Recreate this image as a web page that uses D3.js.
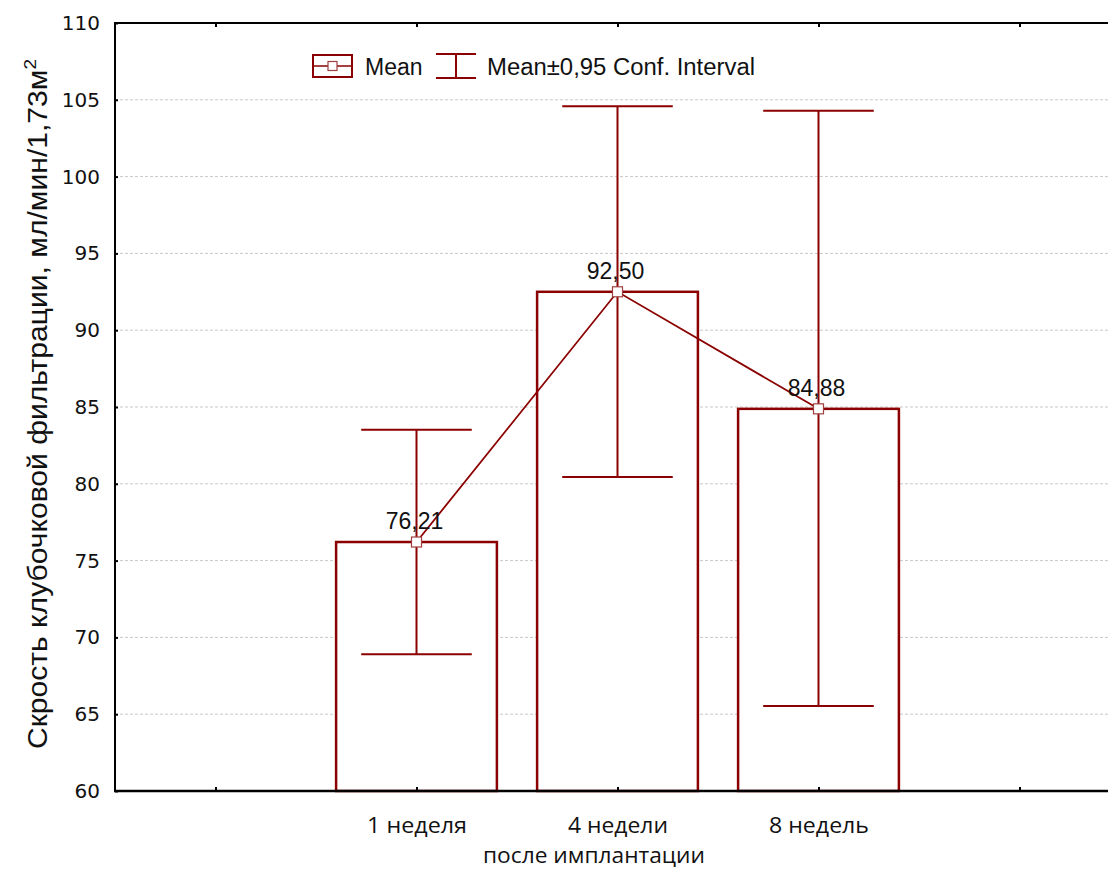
<!DOCTYPE html>
<html>
<head>
<meta charset="utf-8">
<script src="https://cdn.jsdelivr.net/npm/d3@7/dist/d3.min.js"></script>
<style>
  html, body { margin: 0; padding: 0; background: #fff; }
  svg { display: block; }
</style>
</head>
<body>
<svg id="chart" width="1108" height="870"></svg>
<script>
// Glomerular filtration rate after implantation: mean with 95% CI
const categories = ["1 неделя", "4 недели", "8 недель"];
const means = [76.21, 92.50, 84.88];
const ciLow = [68.9, 80.44, 65.53];
const ciHigh = [83.52, 104.58, 104.28];
const yTicks = [60, 65, 70, 75, 80, 85, 90, 95, 100, 105, 110];
const xTickSlots = [-1, 0, 1, 2, 3];

const svg = d3.select("#chart");
const red = "#8b0000";
const plot = { left: 115, right: 1120, top: 23, bottom: 791 };

// slots: one empty slot on each side of the three categories
const x = d3.scaleLinear().domain([-1.5, 3.5]).range([plot.left, plot.right]);
const y = d3.scaleLinear().domain([60, 110]).range([plot.bottom, plot.top]);
const barW = x(0.4) - x(0);
const capW = x(0.275) - x(0);

// horizontal dashed grid
svg.append("g").selectAll("line")
  .data(yTicks.filter(t => t > 60 && t < 110))
  .join("line")
  .attr("x1", plot.left).attr("x2", plot.right)
  .attr("y1", d => y(d)).attr("y2", d => y(d))
  .attr("stroke", "#c8c8c8").attr("stroke-width", 1)
  .attr("stroke-dasharray", "3,2");

// bars
svg.append("g").selectAll("rect")
  .data(means)
  .join("rect")
  .attr("x", (d, i) => x(i) - barW)
  .attr("width", barW * 2)
  .attr("y", d => y(d))
  .attr("height", d => y(60) - y(d))
  .attr("fill", "#fff")
  .attr("stroke", red).attr("stroke-width", 2.5);

// confidence intervals
const eb = svg.append("g").attr("stroke", red).attr("stroke-width", 2);
eb.selectAll("line.v").data(means).join("line").attr("class", "v")
  .attr("x1", (d, i) => x(i)).attr("x2", (d, i) => x(i))
  .attr("y1", (d, i) => y(ciLow[i])).attr("y2", (d, i) => y(ciHigh[i]));
eb.selectAll("line.hi").data(means).join("line").attr("class", "hi")
  .attr("x1", (d, i) => x(i) - capW).attr("x2", (d, i) => x(i) + capW)
  .attr("y1", (d, i) => y(ciHigh[i])).attr("y2", (d, i) => y(ciHigh[i]));
eb.selectAll("line.lo").data(means).join("line").attr("class", "lo")
  .attr("x1", (d, i) => x(i) - capW).attr("x2", (d, i) => x(i) + capW)
  .attr("y1", (d, i) => y(ciLow[i])).attr("y2", (d, i) => y(ciLow[i]));

// mean line
svg.append("path")
  .datum(means)
  .attr("fill", "none").attr("stroke", red).attr("stroke-width", 1.8)
  .attr("d", d3.line().x((d, i) => x(i)).y(d => y(d)));

// mean markers
svg.append("g").selectAll("rect")
  .data(means).join("rect")
  .attr("x", (d, i) => x(i) - 5).attr("y", d => y(d) - 5)
  .attr("width", 10).attr("height", 10)
  .attr("fill", "#fff").attr("stroke", "#a04040").attr("stroke-width", 1.2);

// value labels
svg.append("g").selectAll("text")
  .data(means).join("text")
  .attr("x", (d, i) => x(i) - 2).attr("y", d => y(d) - 13)
  .attr("text-anchor", "middle")
  .attr("font-family", "Liberation Sans, Arial, sans-serif")
  .attr("font-size", 23).attr("fill", "#111")
  .text(d => d.toFixed(2).replace(".", ","));

// frame
const frame = svg.append("g").attr("stroke", "#000").attr("fill", "none");
frame.append("line").attr("x1", plot.left).attr("x2", plot.left)
  .attr("y1", plot.top).attr("y2", plot.bottom + 1).attr("stroke-width", 2);
frame.append("line").attr("x1", plot.left - 1).attr("x2", plot.right)
  .attr("y1", plot.top).attr("y2", plot.top).attr("stroke-width", 2);
frame.append("line").attr("x1", plot.left - 1).attr("x2", plot.right)
  .attr("y1", plot.bottom).attr("y2", plot.bottom).attr("stroke-width", 2.5);

// y axis
const yAxis = svg.append("g")
  .attr("transform", `translate(${plot.left},0)`)
  .call(d3.axisLeft(y).tickValues(yTicks).tickSize(-3).tickPadding(15));
yAxis.select(".domain").remove();
yAxis.selectAll(".tick line").attr("stroke", "#000").attr("stroke-width", 2);
yAxis.selectAll("text")
  .attr("font-family", "DejaVu Sans, Verdana, sans-serif")
  .attr("font-size", 20).attr("fill", "#111");

// x axis (bottom, ticks inward; labels only for categories)
const xAxis = svg.append("g")
  .attr("transform", `translate(0,${plot.bottom})`)
  .call(d3.axisBottom(x).tickValues(xTickSlots).tickSize(-4).tickPadding(26)
    .tickFormat(d => categories[d] || ""));
xAxis.select(".domain").remove();
xAxis.selectAll(".tick line").attr("stroke", "#000").attr("stroke-width", 2);
xAxis.selectAll("text")
  .attr("font-family", "Open Sans, sans-serif")
  .attr("font-size", 22).attr("fill", "#111")
  .attr("textLength", 100).attr("lengthAdjust", "spacingAndGlyphs");

// top ticks
svg.append("g")
  .attr("transform", `translate(0,${plot.top})`)
  .call(d3.axisTop(x).tickValues(xTickSlots).tickSize(-4).tickFormat(""))
  .call(g => g.select(".domain").remove())
  .selectAll(".tick line").attr("stroke", "#000").attr("stroke-width", 2);

// axis titles
svg.append("text")
  .attr("x", 594).attr("y", 863)
  .attr("text-anchor", "middle")
  .attr("font-family", "Open Sans, sans-serif")
  .attr("font-size", 22).attr("fill", "#111")
  .attr("textLength", 222).attr("lengthAdjust", "spacingAndGlyphs")
  .text("после имплантации");

const yt = svg.append("text")
  .attr("transform", "translate(47,404) rotate(-90)")
  .attr("text-anchor", "middle")
  .attr("font-family", "Liberation Sans Narrow, Arial Narrow, Liberation Sans, sans-serif")
  .attr("font-size", 27).attr("fill", "#111")
  .attr("textLength", 690).attr("lengthAdjust", "spacingAndGlyphs");
yt.append("tspan").text("Скрость клубочковой фильтрации, мл/мин/1,73м");
yt.append("tspan").attr("dy", -11).attr("font-size", 17).text("2");

// legend
const lg = svg.append("g");
lg.append("rect").attr("x", 313).attr("y", 55).attr("width", 39).attr("height", 22)
  .attr("fill", "#fff").attr("stroke", red).attr("stroke-width", 2);
lg.append("line").attr("x1", 313).attr("x2", 352).attr("y1", 66).attr("y2", 66)
  .attr("stroke", red).attr("stroke-width", 1.5);
lg.append("rect").attr("x", 328).attr("y", 61.5).attr("width", 9).attr("height", 9)
  .attr("fill", "#fff").attr("stroke", "#a04040").attr("stroke-width", 1.2);
lg.append("text").attr("x", 365).attr("y", 75)
  .attr("font-family", "Liberation Sans, Arial, sans-serif")
  .attr("font-size", 23).attr("fill", "#111").text("Mean");
const ci = lg.append("g").attr("stroke", red).attr("stroke-width", 2);
ci.append("line").attr("x1", 436).attr("x2", 476).attr("y1", 54).attr("y2", 54);
ci.append("line").attr("x1", 436).attr("x2", 476).attr("y1", 78).attr("y2", 78);
ci.append("line").attr("x1", 456).attr("x2", 456).attr("y1", 54).attr("y2", 78);
lg.append("text").attr("x", 487).attr("y", 75)
  .attr("font-family", "Liberation Sans, Arial, sans-serif")
  .attr("font-size", 23).attr("fill", "#111")
  .attr("textLength", 268).attr("lengthAdjust", "spacingAndGlyphs")
  .text("Mean±0,95 Conf. Interval");
</script>
</body>
</html>
